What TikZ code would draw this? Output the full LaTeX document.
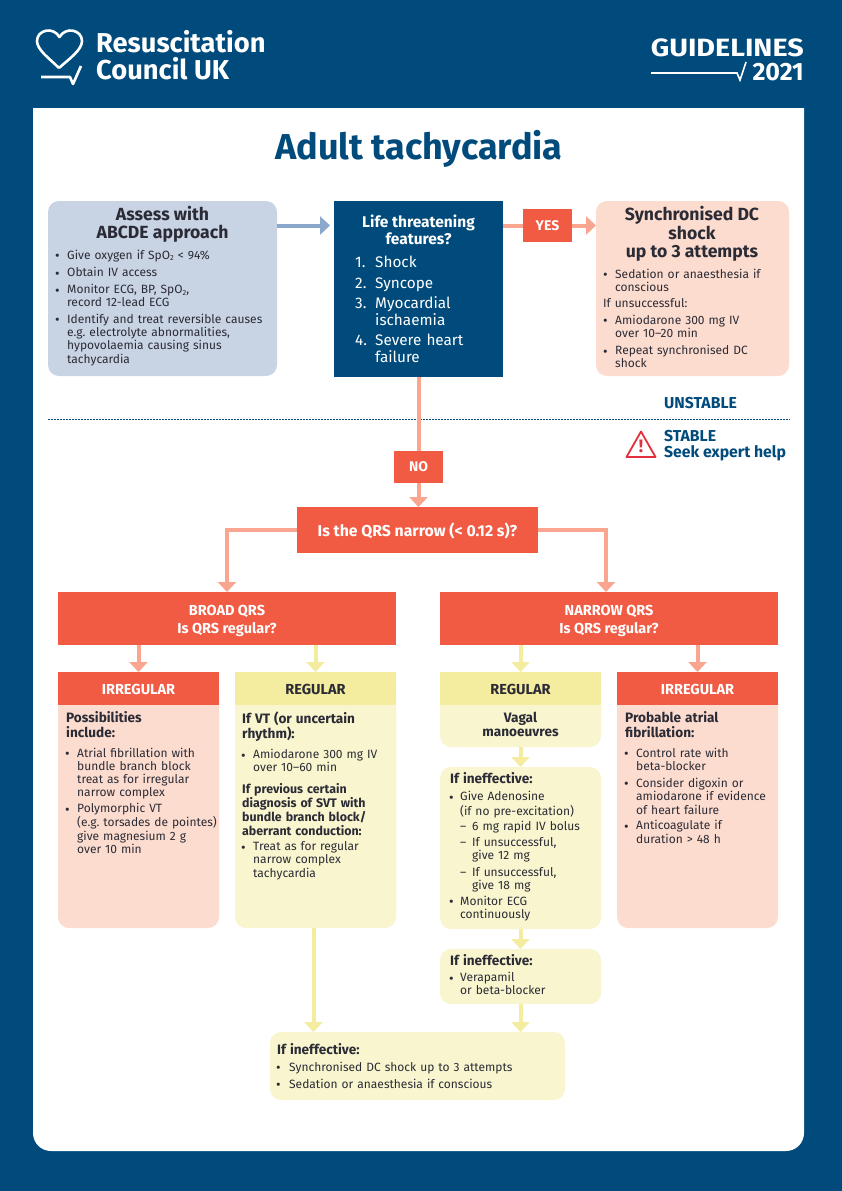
\documentclass[tikz,border=0pt]{standalone}
\usepackage{fontspec}
\setmainfont{Fira Sans}
\usetikzlibrary{arrows.meta}
\definecolor{rcblue}{HTML}{004B7C}
\definecolor{rcgrey}{HTML}{C8D3E4}
\definecolor{rcarrow}{HTML}{8AA8CB}
\definecolor{rcred}{HTML}{F15A43}
\definecolor{rcpink}{HTML}{FCDCCF}
\definecolor{rcsalmon}{HTML}{F9A58F}
\definecolor{rcyellow}{HTML}{F8F5CF}
\definecolor{rchead}{HTML}{F4EC9F}
\definecolor{rcink}{HTML}{2B2B35}
\definecolor{rcwarn}{HTML}{E52F3E}
\newcommand\bodyfont{\fontsize{12}{13}\selectfont\frenchspacing\lineskip=0pt\relax}
\newcommand\listfont{\fontsize{15.3}{17}\selectfont\lineskip=0pt\relax}
\newcommand\boldfont{\fontsize{13.6}{14}\selectfont\bfseries}
\newcommand\lowtwo{\raisebox{-1.5pt}{\fontsize{7.5}{7.5}\selectfont 2}}
\newlength\bulw
\setlength\bulw{11pt}
\newcommand\bulitem[2][4pt]{\noindent\makebox[\bulw][l]{\hspace{-1pt}\raisebox{-1.5pt}{\fontsize{14}{14}\selectfont\textbullet}}\begin{tabular}[t]{@{}l@{}}#2\end{tabular}\par\vspace{#1}}
\newcommand\dashitem[2][4pt]{\noindent\hspace{\bulw}\makebox[12pt][l]{--}\begin{tabular}[t]{@{}l@{}}#2\end{tabular}\par\vspace{#1}}
\newcommand\headitem[2][6pt]{\noindent{\boldfont\begin{tabular}[t]{@{}l@{}}#2\end{tabular}\par}\vspace{#1}}
\newcommand\lineitem[2][4pt]{\noindent\begin{tabular}[t]{@{}l@{}}#2\end{tabular}\par\vspace{#1}}
\tikzset{
  panel/.style={anchor=north west,inner sep=0pt,outer sep=0pt,draw=none},
  roundbox/.style={panel,rounded corners=11pt},
  greybox/.style={roundbox,fill=rcgrey},
  pinkbox/.style={roundbox,fill=rcpink},
  yellowbox/.style={roundbox,fill=rcyellow},
  redhead/.style={panel,fill=rcred,text=white,font=\fontsize{14.5}{15}\selectfont\bfseries,align=center},
  yellowhead/.style={panel,fill=rchead,text=rcink,font=\fontsize{14.5}{15}\selectfont\bfseries,align=center},
  bodytext/.style={anchor=north west,inner sep=0pt,text=rcink,font=\bodyfont},
  boxtitle/.style={inner sep=0pt,text=rcink,align=center,font=\fontsize{17.6}{18.5}\selectfont\bfseries},
  bluelabel/.style={anchor=base west,inner sep=0pt,text=rcblue,font=\fontsize{15.8}{17}\selectfont\bfseries},
  logotext/.style={inner sep=0pt,text=white,font=\fontsize{27.3}{29}\selectfont\bfseries},
  link/.style={line width=4pt,draw=rcsalmon},
  pinkarrow/.style={link,-{Triangle[width=18pt,length=10pt]}},
  yellowarrow/.style={pinkarrow,draw=rchead},
}
\begin{document}
\begin{tikzpicture}[x=1pt,y=-1pt]
  \useasboundingbox (0,0) rectangle (842,1191);
  \fill[rcblue] (0,0) rectangle (842,1191);
  \fill[white] (33,108) -- (804,108) [rounded corners=18pt] -- (804,1151) -- (33,1151) [sharp corners] -- cycle;
  % logo and heading
  \draw[white,line width=2.6pt,line join=round] (59,68) .. controls (50,59) and (37,50) .. (37,41)
    .. controls (37,30) and (53,26) .. (59.5,37) .. controls (66,26) and (82,30) .. (82,41)
    .. controls (82,50) and (69,59) .. (59,68);
  \draw[white,line width=2.6pt,line join=round] (41,77) -- (70,77) -- (73,84) -- (81,66);
  \node[logotext,anchor=base west] (rescue) at (96,52) {Resuscitation};
  \node[logotext,anchor=base west] (council) at (96,79) {Council UK};
  \node[inner sep=0pt,text=white,anchor=base east,font=\fontsize{25}{29}\selectfont\bfseries] (guide) at (804,56) {\scalebox{1.15}[1]{GUIDELINES}};
  \node[inner sep=0pt,text=white,anchor=base east,font=\fontsize{25}{29}\selectfont\bfseries] (year) at (804,80) {2021};
  \draw[white,line width=1.6pt] (651,73) -- (737,73) -- (740,80) -- (746,62);
  \node[inner sep=0pt,anchor=base,text=rcblue,font=\fontsize{36}{38}\selectfont\bfseries] (head) at (419,159) {Adult tachycardia};
  % unstable / stable line
  \draw[rcblue,line width=1.8pt,dash pattern=on 1.6pt off 1.4pt] (48,419.5) -- (790,419.5);
  \node[bluelabel] (unstable) at (664,408) {UNSTABLE};
  \node[bluelabel] (stable) at (664,441) {STABLE};
  \node[bluelabel] (seek) at (664,457) {Seek expert help};
  \draw[rcwarn,line width=1.8pt,line join=round,fill=white] (641,431.5) -- (655.5,457) -- (626.5,457) -- cycle;
  \node[inner sep=0pt,text=rcwarn,font=\fontsize{18}{18}\selectfont\bfseries] (warn) at (641,446.5) {!};
  % top row
  \node[greybox,minimum width=229pt,minimum height=175pt] (assess) at (48,201) {};
  \node[panel,fill=rcblue,minimum width=169pt,minimum height=176pt] (life) at (334,201) {};
  \node[pinkbox,minimum width=193pt,minimum height=175pt] (sync) at (596,201) {};
  \node[panel,fill=rcred,text=white,minimum width=49pt,minimum height=33pt,font=\fontsize{14}{15}\selectfont\bfseries] (yes) at (523,209) {YES};
  \node[panel,fill=rcred,text=white,minimum width=49pt,minimum height=32pt,font=\fontsize{14}{15}\selectfont\bfseries] (no) at (394,451) {NO};
  \node[panel,fill=rcred,text=white,minimum width=241pt,minimum height=46pt,font=\fontsize{15.8}{16}\selectfont\bfseries] (qrs) at (297,507) {\rule{0pt}{16pt}Is the QRS narrow (< 0.12 s)?};
  \node[boxtitle] (assesst) at (162.5,224.5) {Assess with\\ABCDE approach};
  \node[bodytext,text width=212pt] (assessb) at (56,249.9) {
    \bulitem{Give oxygen if SpO\lowtwo{} < 94\%}
    \bulitem{Obtain IV access}
    \bulitem[3pt]{Monitor ECG, BP, SpO\lowtwo,\\record 12-lead ECG}
    \bulitem{Identify and treat reversible causes\\e.g. electrolyte abnormalities,\\hypovolaemia causing sinus\\tachycardia}};
  \node[inner sep=0pt,text=white,align=center,font=\fontsize{15.5}{17}\selectfont\bfseries] (lifet) at (418.5,230) {Life threatening\\features?};
  \node[anchor=north west,inner sep=0pt,text=white,text width=140pt,font=\listfont] (lifeb) at (355,255.1) {
    \lineitem[4pt]{\makebox[20pt][l]{1.}Shock}
    \lineitem[3pt]{\makebox[20pt][l]{2.}Syncope}
    \lineitem[3pt]{\makebox[20pt][l]{3.}Myocardial\\\hspace*{20pt}ischaemia}
    \lineitem[0pt]{\makebox[20pt][l]{4.}Severe heart\\\hspace*{20pt}failure}};
  \node[boxtitle] (synct) at (692,234) {Synchronised DC\\shock\\up to 3 attempts};
  \node[bodytext,text width=180pt] (syncb) at (604,268.9) {
    \bulitem[3pt]{Sedation or anaesthesia if\\conscious}
    \lineitem[3.5pt]{\hspace*{-1pt}If unsuccessful:}
    \bulitem[3.5pt]{Amiodarone 300 mg IV\\over 10--20 min}
    \bulitem{Repeat synchronised DC\\shock}};
  % qrs row
  \node[redhead,minimum width=338pt,minimum height=53pt] (broad) at (58,592) {\rule{0pt}{15pt}BROAD QRS\\[3pt]Is QRS regular?};
  \node[redhead,minimum width=338pt,minimum height=53pt] (narrow) at (440,592) {\rule{0pt}{15pt}NARROW QRS\\[3pt]Is QRS regular?};
  % bodies first, heads cover their top corners
  \node[pinkbox,minimum width=161pt,minimum height=248pt] (irrb) at (58,680) {};
  \node[yellowbox,minimum width=161pt,minimum height=248pt] (regb) at (235,680) {};
  \node[yellowbox,minimum width=161pt,minimum height=67pt] (vagal) at (440,680) {};
  \node[pinkbox,minimum width=161pt,minimum height=248pt] (irrc) at (617,680) {};
  \node[redhead,minimum width=161pt,minimum height=33pt] (irrh) at (58,672) {\rule{0pt}{12pt}IRREGULAR};
  \node[yellowhead,minimum width=161pt,minimum height=33pt] (regh) at (235,672) {\rule{0pt}{12pt}REGULAR};
  \node[yellowhead,minimum width=161pt,minimum height=33pt] (regi) at (440,672) {\rule{0pt}{12pt}REGULAR};
  \node[redhead,minimum width=161pt,minimum height=33pt] (irri) at (617,672) {\rule{0pt}{12pt}IRREGULAR};
  \node[bodytext,text width=150pt] (irrt) at (66,711.2) {
    \headitem{Possibilities\\include:}
    \bulitem[3pt]{Atrial fibrillation with\\bundle branch block\\treat as for irregular\\narrow complex}
    \bulitem{Polymorphic VT\\(e.g. torsades de pointes)\\give magnesium 2 g\\over 10 min}};
  \node[bodytext,text width=150pt] (regt) at (242,711.2) {
    \headitem{If VT (or uncertain\\rhythm):}
    \bulitem[8pt]{Amiodarone 300 mg IV\\over 10--60 min}
    {\fontsize{12.4}{12.8}\selectfont\bfseries\lineitem[2.5pt]{If previous certain\\diagnosis of SVT with\\bundle branch block/\\aberrant conduction:}}
    \bulitem{Treat as for regular\\narrow complex\\tachycardia}};
  \node[inner sep=0pt,text=rcink,align=center,font=\boldfont] (vagalt) at (520.5,724) {Vagal\\manoeuvres};
  \node[bodytext,text width=150pt] (irrd) at (625,711.2) {
    \headitem{Probable atrial\\fibrillation:}
    \bulitem{Control rate with\\beta-blocker}
    \bulitem[2.5pt]{Consider digoxin or\\amiodarone if evidence\\of heart failure}
    \bulitem{Anticoagulate if\\duration > 48 h}};
  \node[yellowbox,minimum width=161pt,minimum height=162pt] (ineffa) at (440,767) {};
  \node[bodytext,text width=146pt,font=\bodyfont\setlength\bulw{10pt}] (ineffat) at (450,772.2) {
    \headitem[4pt]{If ineffective:}
    \bulitem[2pt]{Give Adenosine\\(if no pre-excitation)}
    \dashitem[3pt]{6 mg rapid IV bolus}
    \dashitem[3.5pt]{If unsuccessful,\\give 12 mg}
    \dashitem[2.5pt]{If unsuccessful,\\give 18 mg}
    \bulitem{Monitor ECG\\continuously}};
  \node[yellowbox,minimum width=161pt,minimum height=55pt] (ineffb) at (440,949) {};
  \node[bodytext,text width=146pt,font=\bodyfont\setlength\bulw{10pt}] (ineffbt) at (450,954.2) {
    \headitem[2.5pt]{If ineffective:}
    \bulitem{Verapamil\\or beta-blocker}};
  \node[yellowbox,minimum width=295pt,minimum height=68pt] (ineffc) at (270,1032) {};
  \node[bodytext,text width=280pt,font=\bodyfont\setlength\bulw{12pt}] (ineffct) at (277,1043.2) {
    \headitem[3pt]{If ineffective:}
    \bulitem{Synchronised DC shock up to 3 attempts}
    \bulitem{Sedation or anaesthesia if conscious}};
  % connectors
  \coordinate (assessout) at (277,225.5);
  \coordinate (lifein) at (330,225.5);
  \draw[line width=4pt,draw=rcarrow,-{Triangle[width=18pt,length=10pt]}] (assessout) -- (lifein);
  \draw[link] (yes.west -| life.east) -- (yes.west);
  \draw[pinkarrow] (yes.east) -- (yes.east -| sync.west);
  \draw[link] (no.north |- life.south) -- (no.north);
  \draw[pinkarrow] (no.south) -- (no.south |- qrs.north);
  \draw[pinkarrow] (qrs.west) -| (broad.north);
  \coordinate (narrowin) at (606,592);
  \draw[pinkarrow] (qrs.east) -| (narrowin);
  \draw[pinkarrow] (irrh.north |- broad.south) -- (irrh.north);
  \draw[yellowarrow] (regh.north |- broad.south) -- (regh.north);
  \draw[yellowarrow] (regi.north |- narrow.south) -- (regi.north);
  \draw[pinkarrow] (irri.north |- narrow.south) -- (irri.north);
  \draw[yellowarrow] (vagal.south) -- (ineffa.north);
  \draw[yellowarrow] (ineffa.south) -- (ineffb.north);
  \draw[yellowarrow] (ineffb.south) -- (ineffb.south |- ineffc.north);
  \coordinate (regout) at (313.5,928);
  \draw[yellowarrow] (regout) -- (regout |- ineffc.north);
\end{tikzpicture}
\end{document}
